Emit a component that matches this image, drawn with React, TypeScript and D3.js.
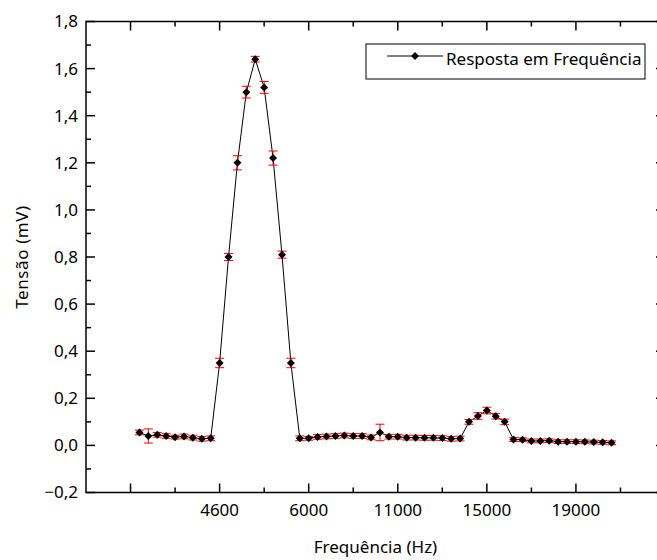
import React, { useEffect, useRef } from 'react';
import * as d3 from 'd3';

// point number (x column), measured voltage and error
const rows = [
  1, 2, 3, 4, 5, 6, 7, 8, 9, 10, 11, 12, 13, 14, 15, 16, 17, 18,
  19, 20, 21, 22, 23, 24, 25, 26, 27, 28, 29, 30, 31, 32, 33, 34, 35, 36,
  37, 38, 39, 40, 41, 42, 43, 44, 45, 46, 47, 48, 49, 50, 51, 52, 53, 54,
];
const tensao = [
  0.055, 0.040, 0.045, 0.040, 0.035, 0.038, 0.033, 0.028, 0.030,
  0.350, 0.800, 1.200, 1.500, 1.640, 1.520, 1.220, 0.810, 0.350,
  0.030, 0.030, 0.036, 0.038, 0.040, 0.042, 0.040, 0.040, 0.034,
  0.055, 0.037, 0.037, 0.033, 0.033, 0.032, 0.032, 0.031, 0.028,
  0.029, 0.100, 0.125, 0.148, 0.124, 0.100, 0.025, 0.024, 0.019,
  0.019, 0.020, 0.016, 0.016, 0.016, 0.015, 0.014, 0.013, 0.011,
];
const erro = [
  0.010, 0.030, 0.010, 0.010, 0.008, 0.010, 0.010, 0.010, 0.010,
  0.020, 0.015, 0.030, 0.025, 0.012, 0.025, 0.030, 0.015, 0.020,
  0.010, 0.008, 0.010, 0.010, 0.010, 0.010, 0.010, 0.010, 0.010,
  0.035, 0.010, 0.010, 0.010, 0.010, 0.010, 0.010, 0.010, 0.010,
  0.010, 0.010, 0.014, 0.014, 0.012, 0.012, 0.008, 0.008, 0.008,
  0.008, 0.008, 0.008, 0.008, 0.008, 0.008, 0.008, 0.008, 0.008,
];

// custom tick labels on the x axis (Origin style)
const xTickRows = [0, 10, 20, 30, 40, 50];
const xTickLabels = ['', '4600', '6000', '11000', '15000', '19000'];
const xMinorRows = [5, 15, 25, 35, 45, 55];
const yMajor = [-0.2, 0, 0.2, 0.4, 0.6, 0.8, 1.0, 1.2, 1.4, 1.6, 1.8];
const yMinor = [-0.1, 0.1, 0.3, 0.5, 0.7, 0.9, 1.1, 1.3, 1.5, 1.7];

const legendLabel = 'Resposta em Frequência';
const xTitle = 'Frequência (Hz)';
const yTitle = 'Tensão (mV)';

const W = 657;
const H = 560;
const font = '"Noto Sans", "Open Sans", sans-serif';

const draw = (node: SVGSVGElement) => {
  const svg = d3.select(node);
  svg.selectAll('*').remove();

  const left = 86, right = 665, top = 21.5, bottom = 492.5;

  const x = d3.scaleLinear().domain([-5, 60]).range([left, right]);
  const y = d3.scaleLinear().domain([-0.2, 1.8]).range([bottom, top]);

  const data = rows.map((r, i) => ({ r, v: tensao[i], e: erro[i] }));

  // frame
  const g = svg.append('g');
  g.append('rect')
    .attr('x', left).attr('y', top)
    .attr('width', right - left).attr('height', bottom - top)
    .attr('fill', 'none').attr('stroke', '#000').attr('stroke-width', 1.5);

  const major = 9, minor = 5;
  // x ticks bottom + top (inward)
  xTickRows.forEach(r => {
    g.append('line').attr('x1', x(r)).attr('x2', x(r)).attr('y1', bottom).attr('y2', bottom - major)
      .attr('stroke', '#000').attr('stroke-width', 1.5);
    g.append('line').attr('x1', x(r)).attr('x2', x(r)).attr('y1', top).attr('y2', top + major)
      .attr('stroke', '#000').attr('stroke-width', 1.5);
  });
  xMinorRows.forEach(r => {
    g.append('line').attr('x1', x(r)).attr('x2', x(r)).attr('y1', bottom).attr('y2', bottom - minor)
      .attr('stroke', '#000').attr('stroke-width', 1.5);
    g.append('line').attr('x1', x(r)).attr('x2', x(r)).attr('y1', top).attr('y2', top + minor)
      .attr('stroke', '#000').attr('stroke-width', 1.5);
  });
  g.selectAll('.xlab')
    .data(xTickRows)
    .enter().append('text')
    .attr('x', d => x(d))
    .attr('y', 516)
    .attr('text-anchor', 'middle')
    .style('font-family', font).style('font-size', '17px')
    .text((d, i) => xTickLabels[i]);

  // y ticks left + right (inward)
  yMajor.forEach(v => {
    g.append('line').attr('x1', left).attr('x2', left + major).attr('y1', y(v)).attr('y2', y(v))
      .attr('stroke', '#000').attr('stroke-width', 1.5);
    g.append('line').attr('x1', right).attr('x2', right - major).attr('y1', y(v)).attr('y2', y(v))
      .attr('stroke', '#000').attr('stroke-width', 1.5);
  });
  yMinor.forEach(v => {
    g.append('line').attr('x1', left).attr('x2', left + minor).attr('y1', y(v)).attr('y2', y(v))
      .attr('stroke', '#000').attr('stroke-width', 1.5);
    g.append('line').attr('x1', right).attr('x2', right - minor).attr('y1', y(v)).attr('y2', y(v))
      .attr('stroke', '#000').attr('stroke-width', 1.5);
  });
  const fmt = (v: number) => d3.format('.1f')(v).replace('.', ',').replace('-', '\u2212');
  g.selectAll('.ylab')
    .data(yMajor)
    .enter().append('text')
    .attr('x', 78)
    .attr('y', d => y(d))
    .attr('dy', '0.35em')
    .attr('text-anchor', 'end')
    .style('font-family', font).style('font-size', '17px')
    .text(d => fmt(d));

  // axis titles
  svg.append('text')
    .attr('x', (left + right) / 2).attr('y', 553)
    .attr('text-anchor', 'middle')
    .style('font-family', font).style('font-size', '17px')
    .text(xTitle);
  svg.append('text')
    .attr('transform', 'translate(28,' + (top + bottom) / 2 + ') rotate(-90)')
    .attr('text-anchor', 'middle')
    .style('font-family', font).style('font-size', '17px')
    .style('letter-spacing', '0.6px')
    .text(yTitle);

  // connecting line
  const line = d3.line<any>().x(d => x(d.r)).y(d => y(d.v));
  svg.append('path')
    .datum(data)
    .attr('d', line)
    .attr('fill', 'none').attr('stroke', '#000').attr('stroke-width', 1);

  // error bars
  const cap = 4.5;
  const eb = svg.append('g').attr('stroke', '#f00').attr('stroke-width', 1);
  data.forEach(d => {
    eb.append('line').attr('x1', x(d.r)).attr('x2', x(d.r)).attr('y1', y(d.v - d.e)).attr('y2', y(d.v + d.e));
    eb.append('line').attr('x1', x(d.r) - cap).attr('x2', x(d.r) + cap).attr('y1', y(d.v - d.e)).attr('y2', y(d.v - d.e));
    eb.append('line').attr('x1', x(d.r) - cap).attr('x2', x(d.r) + cap).attr('y1', y(d.v + d.e)).attr('y2', y(d.v + d.e));
  });

  // diamond markers
  const diamond = d3.symbol().type(d3.symbolSquare).size(32);
  svg.append('g')
    .selectAll('path')
    .data(data)
    .enter().append('path')
    .attr('d', diamond as any)
    .attr('transform', d => 'translate(' + x(d.r) + ',' + y(d.v) + ') rotate(45)')
    .attr('fill', '#000');

  // legend
  const lg = svg.append('g');
  lg.append('rect')
    .attr('x', 366).attr('y', 44).attr('width', 279).attr('height', 35)
    .attr('fill', '#fff').attr('stroke', '#000').attr('stroke-width', 1);
  lg.append('line')
    .attr('x1', 387).attr('x2', 443).attr('y1', 56).attr('y2', 56)
    .attr('stroke', '#000').attr('stroke-width', 1);
  lg.append('path')
    .attr('d', diamond as any)
    .attr('transform', 'translate(415,56) rotate(45)')
    .attr('fill', '#000');
  lg.append('text')
    .attr('x', 446).attr('y', 65)
    .style('font-family', font).style('font-size', '17px')
    .text(legendLabel);
};

const App = () => {
  const ref = useRef<SVGSVGElement>(null);

  useEffect(() => {
    if (ref.current) draw(ref.current);
  }, []);

  return (
    <svg
      ref={ref}
      width={W}
      height={H}
      style={{ position: 'absolute', left: 0, top: 0, background: '#fff' }}
    />
  );
};

export default App;
